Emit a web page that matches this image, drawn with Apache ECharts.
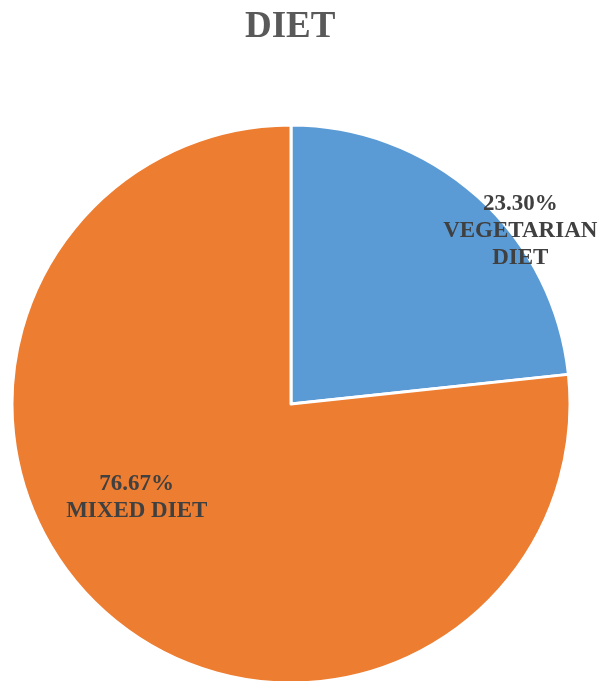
<!DOCTYPE html>
<html>
<head>
<meta charset="utf-8">
<style>
  html, body { margin: 0; padding: 0; background: #fff; }
  #main { width: 605px; height: 681px; }
</style>
<script src="https://cdn.jsdelivr.net/npm/echarts@6/dist/echarts.min.js"></script>
</head>
<body>
<div id="main"></div>
<script>
var categories = ['VEGETARIAN\nDIET', 'MIXED DIET'];
var values = [23.30, 76.67];
var colors = ['#5B9BD5', '#ED7D31'];
// nudge the labels to where the original put them
var labelOffsets = [[134, -67], [-59, -12]];

var myChart = echarts.init(document.getElementById('main'));

var data = categories.map(function (name, i) {
    return {
        name: name,
        value: values[i],
        itemStyle: { color: colors[i] },
        label: { offset: labelOffsets[i] }
    };
});

var option = {
    animation: false,
    title: {
        text: 'DIET',
        left: 240,
        top: 4,
        textStyle: {
            fontFamily: '"Liberation Serif", "Times New Roman", serif',
            fontWeight: 'bold',
            fontSize: 37,
            color: '#595959'
        }
    },
    series: [
        {
            type: 'pie',
            center: [291, 404],
            radius: 279,
            startAngle: 90,
            clockwise: true,
            silent: true,
            itemStyle: {
                borderColor: '#ffffff',
                borderWidth: 3
            },
            label: {
                position: 'inside',
                fontFamily: '"Liberation Serif", "Times New Roman", serif',
                fontWeight: 'bold',
                fontSize: 23,
                lineHeight: 27,
                color: '#404040',
                formatter: function (p) {
                    return p.value.toFixed(2) + '%\n' + p.name;
                }
            },
            labelLine: { show: false },
            data: data
        }
    ]
};

myChart.setOption(option);
</script>
</body>
</html>
